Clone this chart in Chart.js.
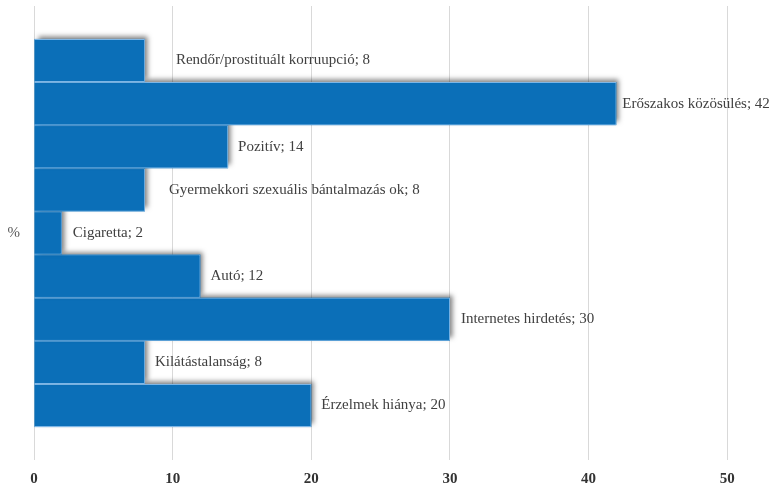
<!DOCTYPE html>
<html>
<head>
<meta charset="utf-8">
<script src="https://cdn.jsdelivr.net/npm/chart.js@4"></script>
<style>
  html, body { margin: 0; padding: 0; background: #fff; }
  #wrap { width: 773px; height: 485px; }
</style>
</head>
<body>
<div id="wrap"><canvas id="causes-chart"></canvas></div>
<script>
// one category on the y axis, every cause is its own series
const axisLabels = ["%"];
const causes = [
  "Rendőr/prostituált korruupció",
  "Erőszakos közösülés",
  "Pozitív",
  "Gyermekkori szexuális bántalmazás ok",
  "Cigaretta",
  "Autó",
  "Internetes hirdetés",
  "Kilátástalanság",
  "Érzelmek hiánya"
];
const values = [8, 42, 14, 8, 2, 12, 30, 8, 20];
const xTicks = [0, 10, 20, 30, 40, 50];

// gap between bar end and its label
const labelGap = [31, 6, 10, 24, 11, 10, 11, 10, 10];

const barColor = "#0B6FB8";

// soft drop shadow behind every bar (the bar element clips its own drawing,
// so the shadow is painted separately before each dataset)
const barShadow = {
  id: "barShadow",
  beforeDatasetDraw: (chart, args) => {
    const ctx = chart.ctx;
    ctx.save();
    ctx.shadowColor = "rgba(0, 0, 0, 0.5)";
    ctx.shadowBlur = 5;
    ctx.shadowOffsetX = 3;
    ctx.shadowOffsetY = -3;
    ctx.fillStyle = barColor;
    args.meta.data.forEach((bar) => {
      const p = bar.getProps(["x", "y", "base", "height"], true);
      ctx.fillRect(p.base, p.y - p.height / 2, p.x - p.base, p.height);
    });
    ctx.restore();
  }
};

const barLabels = {
  id: "barLabels",
  afterDatasetsDraw: (chart) => {
    const ctx = chart.ctx;
    ctx.save();
    ctx.font = "15px 'Liberation Serif', serif";
    ctx.fillStyle = "#404040";
    ctx.textAlign = "left";
    ctx.textBaseline = "middle";
    chart.data.datasets.forEach((ds, i) => {
      const bar = chart.getDatasetMeta(i).data[0];
      ctx.fillText(ds.label + "; " + ds.data[0], bar.x + labelGap[i], bar.y);
    });
    ctx.restore();
  }
};

const datasets = causes.map((name, i) => ({
  label: name,
  data: [values[i]],
  backgroundColor: barColor,
  borderColor: "#7DB6E6",
  borderWidth: 1,
  categoryPercentage: 0.855,
  barPercentage: 1
}));

new Chart(document.getElementById("causes-chart"), {
  type: "bar",
  data: { labels: axisLabels, datasets: datasets },
  options: {
    indexAxis: "y",
    responsive: true,
    maintainAspectRatio: false,
    animation: false,
    layout: { padding: { top: 6, right: 18, left: 0, bottom: 0 } },
    scales: {
      x: {
        min: 0,
        max: 52,
        afterBuildTicks: (scale) => {
          scale.ticks = xTicks.map(v => ({ value: v }));
        },
        afterFit: (scale) => { scale.height = 25; },
        grid: { color: "#D9D9D9", drawTicks: false },
        border: { display: false },
        ticks: {
          padding: 10,
          color: "#333333",
          font: { family: "'Liberation Serif', serif", size: 15, weight: "bold" }
        }
      },
      y: {
        afterFit: (scale) => {
          scale.width = 34;
          scale.paddingTop = 0;
          scale.paddingBottom = 0;
        },
        grid: { display: false, drawTicks: false },
        border: { display: false },
        ticks: {
          padding: 14,
          color: "#595959",
          font: { family: "'Liberation Serif', serif", size: 15 }
        }
      }
    },
    plugins: {
      legend: { display: false },
      tooltip: { enabled: false }
    }
  },
  plugins: [barShadow, barLabels]
});
</script>
</body>
</html>
